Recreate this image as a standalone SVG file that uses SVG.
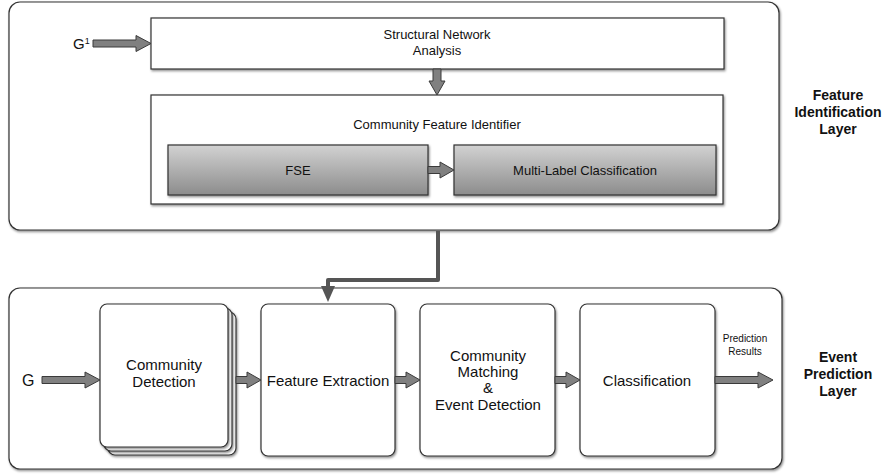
<svg xmlns="http://www.w3.org/2000/svg" width="886" height="475" viewBox="0 0 886 475">
  <defs>
    <filter id="shadow" x="-5%" y="-5%" width="110%" height="115%">
      <feDropShadow dx="1" dy="1.5" stdDeviation="1" flood-color="#000" flood-opacity="0.45"/>
    </filter>
    <linearGradient id="grayFill" x1="0" y1="0" x2="0" y2="1">
      <stop offset="0" stop-color="#d2d2d2"/>
      <stop offset="1" stop-color="#8c8c8c"/>
    </linearGradient>
  </defs>
  <style>
    text { font-family: "Liberation Sans", Arial, sans-serif; fill: #111; }
    .layer { fill: #fff; stroke: #333; stroke-width: 1.2; filter: url(#shadow); }
    .box { fill: #fff; stroke: #333; stroke-width: 1.2; filter: url(#shadow); }
    .grad { fill: url(#grayFill); stroke: #333; stroke-width: 1.2; filter: url(#shadow); }
    .fat { fill: #808080; stroke: #3a3a3a; stroke-width: 1; }
    .t13 { font-size: 13px; text-anchor: middle; }
    .t15 { font-size: 15px; text-anchor: middle; }
    .small { font-size: 10px; text-anchor: middle; }
    .label { font-size: 14px; font-weight: bold; text-anchor: middle; }
  </style>

  <!-- Feature identification layer -->
  <g id="feature-layer">
    <rect class="layer" x="9" y="2" width="770" height="228" rx="11"/>
    <text class="label" x="838" y="100">Feature</text>
    <text class="label" x="838" y="117">Identification</text>
    <text class="label" x="838" y="134">Layer</text>
  </g>

  <!-- Event prediction layer -->
  <g id="event-layer">
    <rect class="layer" x="9" y="288" width="773" height="181" rx="11"/>
    <text class="label" x="838" y="362">Event</text>
    <text class="label" x="838" y="379">Prediction</text>
    <text class="label" x="838" y="396">Layer</text>
  </g>

  <g id="structural-network-analysis">
    <rect class="box" x="151" y="18" width="573" height="51"/>
    <text class="t13" x="437" y="39">Structural Network</text>
    <text class="t13" x="437" y="55">Analysis</text>
  </g>

  <g id="community-feature-identifier">
    <rect class="box" x="151" y="95" width="572" height="109"/>
    <text class="t13" x="437" y="129">Community Feature Identifier</text>
  </g>

  <g id="fse">
    <rect class="grad" x="168" y="145" width="260" height="50"/>
    <text class="t13" x="298" y="175">FSE</text>
  </g>

  <g id="multi-label-classification">
    <rect class="grad" x="454" y="145" width="262" height="50"/>
    <text class="t13" x="585" y="175">Multi-Label Classification</text>
  </g>

  <g id="community-detection">
    <rect class="box" x="108" y="312" width="128" height="143" rx="7"/>
    <rect class="box" x="104" y="308" width="128" height="143" rx="7"/>
    <rect class="box" x="100" y="304" width="128" height="143" rx="7"/>
    <text class="t15" x="164" y="370">Community</text>
    <text class="t15" x="164" y="387">Detection</text>
  </g>

  <g id="feature-extraction">
    <rect class="box" x="261" y="304" width="134" height="152" rx="7"/>
    <text class="t15" x="328" y="386">Feature Extraction</text>
  </g>

  <g id="community-matching">
    <rect class="box" x="420" y="304" width="135" height="152" rx="7"/>
    <text class="t15" x="488" y="361">Community</text>
    <text class="t15" x="488" y="377">Matching</text>
    <text class="t15" x="488" y="393">&amp;</text>
    <text class="t15" x="488" y="410">Event Detection</text>
  </g>

  <g id="classification">
    <rect class="box" x="580" y="304" width="135" height="152" rx="7"/>
    <text class="t15" x="647" y="386">Classification</text>
  </g>

  <!-- inputs and outputs -->
  <g id="input-g1">
    <text x="73" y="49" font-size="15">G<tspan font-size="9" dy="-5">1</tspan></text>
  </g>
  <g id="input-g">
    <text x="22" y="386" font-size="16">G</text>
  </g>
  <g id="prediction-results">
    <text class="small" x="745" y="342">Prediction</text>
    <text class="small" x="745" y="355">Results</text>
  </g>

  <g id="connectors">
    <path class="fat" d="M93,40 H136 V35.5 L151,43.5 L136,51.5 V47 H93 Z"/>
    <path class="fat" d="M433,69 V81 H429 L437,95 L445,81 H441 V69 Z"/>
    <path class="fat" d="M428,166.5 H440 V162 L454,170 L440,178 V173.5 H428 Z"/>
    <path class="fat" d="M42,376.5 H85 V372 L100,380 L85,388 V383.5 H42 Z"/>
    <path class="fat" d="M236,376.5 H247 V372 L261,380 L247,388 V383.5 H236 Z"/>
    <path class="fat" d="M395,376.5 H406 V372 L420,380 L406,388 V383.5 H395 Z"/>
    <path class="fat" d="M555,376.5 H566 V372 L580,380 L566,388 V383.5 H555 Z"/>
    <path class="fat" d="M715,376.5 H758 V372 L773,380 L758,388 V383.5 H715 Z"/>
    <path d="M438,231 V280 H328 V288" fill="none" stroke="#555" stroke-width="4" stroke-linejoin="round"/>
    <polygon points="321,286 335,286 328,302" fill="#555"/>
  </g>
</svg>
